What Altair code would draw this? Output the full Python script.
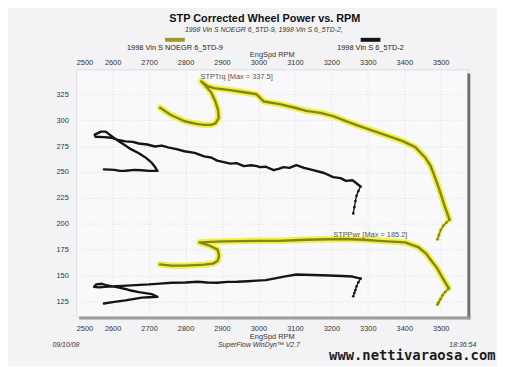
import altair as alt
import pandas as pd

# ---------------- data ----------------
x_ticks = [2500, 2600, 2700, 2800, 2900, 3000, 3100, 3200, 3300, 3400, 3500]
y_ticks = [125, 150, 175, 200, 225, 250, 275, 300, 325]

run_names = ["1998 Vin S NOEGR 6_5TD-9", "1998 Vin S 6_5TD-2"]

# yellow run (NOEGR) torque
y_trq_rpm = [2730, 2760, 2797, 2830, 2851, 2870, 2882, 2891, 2889, 2882, 2870, 2855, 2843,
             2860, 2878, 2922, 2960, 2995, 3015, 3058, 3100, 3131, 3170, 3205, 3240, 3275,
             3329, 3394, 3430, 3457, 3472, 3484, 3498, 3511, 3524]
y_trq_val = [312, 305, 299, 296.5, 295.5, 295.5, 297, 302, 310, 318, 327, 333, 337.5,
             333, 331, 329, 327, 325, 318, 315.5, 312, 309, 307, 304, 299, 294.6,
             288, 280, 274, 264, 256, 245, 231, 216.7, 204]
y_trq_tail_rpm = [3524, 3515, 3507, 3500, 3495, 3491]
y_trq_tail_val = [204, 201, 198, 194, 189, 185]

# yellow run power
y_pwr_rpm = [2730, 2760, 2797, 2851, 2875, 2888, 2892, 2888, 2868, 2838, 2870, 2906,
             2996, 3058, 3130, 3194, 3240, 3290, 3329, 3402, 3438, 3460, 3475, 3490,
             3503, 3522]
y_pwr_val = [160.7, 159.5, 159.5, 160.5, 161.5, 164, 169, 175, 178.5, 182, 182.5, 183,
             183.5, 183.5, 184.5, 185, 185.2, 184.5, 183.5, 182, 177.5, 171, 164, 157,
             149, 137.6]
y_pwr_tail_rpm = [3522, 3512, 3505, 3499, 3494, 3491]
y_pwr_tail_val = [137.6, 134, 131, 127, 124, 122]

# black run torque
b_trq_rpm = [2576, 2605, 2620, 2635, 2660, 2680, 2700, 2723, 2716, 2707, 2690, 2672, 2650,
             2635, 2618, 2603, 2590, 2581, 2568, 2551, 2553, 2575, 2598, 2615, 2635, 2655,
             2672, 2695, 2716, 2735, 2752, 2775, 2797, 2825, 2851, 2870, 2887, 2905, 2923,
             2940, 2960, 2980, 2996, 3004, 3020, 3042, 3055, 3069, 3085, 3104, 3125, 3150,
             3180, 3205, 3225, 3240, 3258, 3280]
b_trq_val = [252.5, 252, 251, 251.2, 252, 251.7, 251, 251, 255, 259, 264, 268, 272,
             275.6, 279.5, 283, 286.5, 289, 289, 286, 284, 283.6, 283, 281, 279.5, 279,
             277.5, 276.5, 274.6, 275.5, 273.7, 272, 270, 268.5, 265, 264, 261, 259.5, 258,
             258.5, 255.6, 256.5, 255.6, 254.7, 255, 251.7, 253, 254.7, 254, 256.6, 254, 251.7,
             249, 245, 244, 241.4, 242, 236]
b_trq_tail_rpm = [3280, 3274, 3269, 3266, 3263, 3260]
b_trq_tail_val = [236, 231.5, 227, 222, 216, 210]

# black run power
b_pwr_rpm = [2576, 2605, 2635, 2660, 2680, 2700, 2723, 2707, 2690, 2672, 2650, 2635, 2615,
             2598, 2580, 2570, 2555, 2549, 2562, 2598, 2625, 2652, 2675, 2699, 2730, 2761,
             2800, 2833, 2860, 2887, 2915, 2942, 2970, 2996, 3020, 3042, 3070, 3104, 3150,
             3194, 3230, 3258, 3280]
b_pwr_val = [123, 124.5, 126, 127.5, 128.6, 129, 129.5, 132, 133, 134, 135.5, 137, 138.5,
             139.5, 141, 142, 141.5, 139, 138.5, 139.5, 140, 140.5, 141, 141.4, 142.2, 143,
             143.3, 144, 143.2, 143, 143.8, 144, 144.5, 145, 145.6, 147, 149, 151, 150.5,
             150, 149.5, 149, 147]
b_pwr_tail_rpm = [3280, 3274, 3269, 3266, 3263, 3260]
b_pwr_tail_val = [147, 143.5, 139.5, 136, 133, 130]

annotations = ["STPTrq [Max = 337.5]", "STPPwr [Max = 185.2]"]
ann_rpm = [2841, 3205]
ann_val = [342, 189]

title_text = "STP Corrected Wheel Power vs. RPM"
subtitle_text = "1998 Vin S NOEGR 6_5TD-9, 1998 Vin S 6_5TD-2,"
axis_title = "EngSpd  RPM"
footer_left = "09/10/08"
footer_mid = "SuperFlow WinDyn\u2122 V2.7"
footer_right = "18:36:54"
watermark = "www.nettivaraosa.com"

# ---------------- build tables ----------------
def mk(rpm, val, run, curve):
    return pd.DataFrame({"rpm": rpm, "val": val, "run": run, "curve": curve,
                         "order": list(range(len(rpm)))})

main = pd.concat([
    mk(y_trq_rpm, y_trq_val, run_names[0], "trq"),
    mk(y_pwr_rpm, y_pwr_val, run_names[0], "pwr"),
    mk(b_trq_rpm, b_trq_val, run_names[1], "trq"),
    mk(b_pwr_rpm, b_pwr_val, run_names[1], "pwr"),
])
tails = pd.concat([
    mk(y_trq_tail_rpm, y_trq_tail_val, run_names[0], "trq"),
    mk(y_pwr_tail_rpm, y_pwr_tail_val, run_names[0], "pwr"),
    mk(b_trq_tail_rpm, b_trq_tail_val, run_names[1], "trq"),
    mk(b_pwr_tail_rpm, b_pwr_tail_val, run_names[1], "pwr"),
])
ann_df = pd.DataFrame({"rpm": ann_rpm, "val": ann_val, "label": annotations})

W, H = 396, 250
FONT = "Liberation Sans"
XDOM = [2500, 3573]
YDOM = [110.5, 349]

xs = alt.Scale(domain=XDOM, nice=False, zero=False)
ys = alt.Scale(domain=YDOM, nice=False, zero=False)

color_scale = alt.Scale(domain=run_names, range=["#85851a", "#151515"])

x_bottom_axis = alt.Axis(
    orient="bottom", values=x_ticks, title=axis_title, labelFont=FONT, titleFont=FONT,
    labelFontSize=7.5, titleFontSize=7.5, titleFontWeight="normal", labelColor="#333",
    titleColor="#333", domain=False, ticks=False, labelPadding=8, titlePadding=1,
    grid=True, gridColor="#dcdce2", gridDash=[1, 2], format="d", labelOverlap=False)
x_top_axis = alt.Axis(
    orient="top", values=x_ticks, title=axis_title, labelFont=FONT, titleFont=FONT,
    labelFontSize=7.5, titleFontSize=7.5, titleFontWeight="normal", labelColor="#333",
    titleColor="#333", domain=False, ticks=False, labelPadding=3, titlePadding=0,
    grid=False, format="d", labelOverlap=False)
y_left_axis = alt.Axis(
    values=y_ticks, title=None, labelFont=FONT, labelFontSize=7.5, labelColor="#333",
    domain=False, ticks=False, labelPadding=8, grid=True, gridColor="#dcdce2",
    gridDash=[1, 2], labelOverlap=False)


def X(axis=None):
    return alt.X("rpm:Q", scale=xs, axis=axis)


def Y():
    return alt.Y("val:Q", scale=ys, axis=y_left_axis)


glow = alt.Chart(main).transform_filter(alt.datum.run == run_names[0]).mark_line(
    color="#eeee3c", strokeWidth=6.5, opacity=0.9, strokeCap="round", strokeJoin="round"
).encode(x=X(x_bottom_axis), y=Y(), detail="curve:N", order="order:Q")

glow_tail = alt.Chart(tails).transform_filter(alt.datum.run == run_names[0]).mark_line(
    color="#eeee3c", strokeWidth=4, opacity=0.8, strokeCap="round"
).encode(x=X(), y=Y(), detail="curve:N", order="order:Q")

lines = alt.Chart(main).mark_line(strokeWidth=2.4, strokeCap="round", strokeJoin="round").encode(
    x=X(), y=Y(),
    color=alt.Color("run:N", scale=color_scale, legend=None),
    detail="curve:N", order="order:Q")

tail_lines = alt.Chart(tails).mark_line(strokeWidth=1.4).encode(
    x=X(), y=Y(),
    color=alt.Color("run:N", scale=color_scale, legend=None),
    detail="curve:N", order="order:Q")

tail_pts = alt.Chart(tails).mark_point(filled=True, size=7, opacity=1).encode(
    x=X(), y=Y(),
    color=alt.Color("run:N", scale=color_scale, legend=None))

ann = alt.Chart(ann_df).mark_text(font=FONT, fontSize=7.5, color="#555", align="left",
                                  baseline="middle").encode(x=X(), y=Y(), text="label:N")

# top axis (shared scale)
top_axis = alt.Chart(pd.DataFrame({"rpm": [2500], "val": [200]})).mark_point(opacity=0).encode(
    x=X(x_top_axis), y=Y())

# frame shadow bars
frame = pd.DataFrame({"k": [0]})
right_bar = alt.Chart(frame).mark_rect(color="#707070").encode(
    x=alt.value(W), x2=alt.value(W + 3), y=alt.value(4), y2=alt.value(H + 3))
bottom_bar = alt.Chart(frame).mark_rect(color="#9c9c9c").encode(
    x=alt.value(3), x2=alt.value(W + 3), y=alt.value(H), y2=alt.value(H + 3))

# legend (swatches + names)
sw1 = alt.Chart(frame).mark_rect(color="#9a9a28").encode(
    x=alt.value(90), x2=alt.value(110), y=alt.value(-32), y2=alt.value(-28))
sw2 = alt.Chart(frame).mark_rect(color="#151515").encode(
    x=alt.value(288), x2=alt.value(308), y=alt.value(-32), y2=alt.value(-28))


def label(txt, x, y, **kw):
    return alt.Chart(pd.DataFrame({"t": [txt]})).mark_text(font=FONT, **kw).encode(
        x=alt.value(x), y=alt.value(y), text="t:N")


lg1 = label(run_names[0], 100, -22, fontSize=7.5, color="#222")
lg2 = label(run_names[1], 298, -22, fontSize=7.5, color="#222")
title = label(title_text, 191, -51, fontSize=11, fontWeight="bold", color="#111")
subtitle = label(subtitle_text, 190, -40, fontSize=7, fontStyle="italic", color="#333")
f1 = label(footer_left, -24, 279, fontSize=7, fontStyle="italic", color="#333", align="left")
f2 = label(footer_mid, 185, 279, fontSize=7, fontStyle="italic", color="#333")
f3 = label(footer_right, 405, 279, fontSize=7, fontStyle="italic", color="#333", align="right")
wm = alt.Chart(pd.DataFrame({"t": [watermark]})).mark_text(
    font="DejaVu Sans Mono", fontSize=14, fontWeight="bold", color="#1c1c1c", align="left",
    baseline="middle").encode(x=alt.value(256), y=alt.value(290), text="t:N")

chart = alt.layer(
    glow, glow_tail, lines, tail_lines, tail_pts, ann, top_axis,
    right_bar, bottom_bar, sw1, sw2, lg1, lg2, title, subtitle, f1, f2, f3, wm
).resolve_axis(x="independent").properties(
    width=W, height=H,
    autosize=alt.AutoSizeParams(type="none"),
    padding={"left": 69, "top": 60, "right": 30, "bottom": 48},
    background="#f3f3f5",
).configure_view(fill="#f9f9fb", stroke="#dedee2", strokeWidth=1)

chart.save("out.html", embed_options={"renderer": "svg", "actions": False})
